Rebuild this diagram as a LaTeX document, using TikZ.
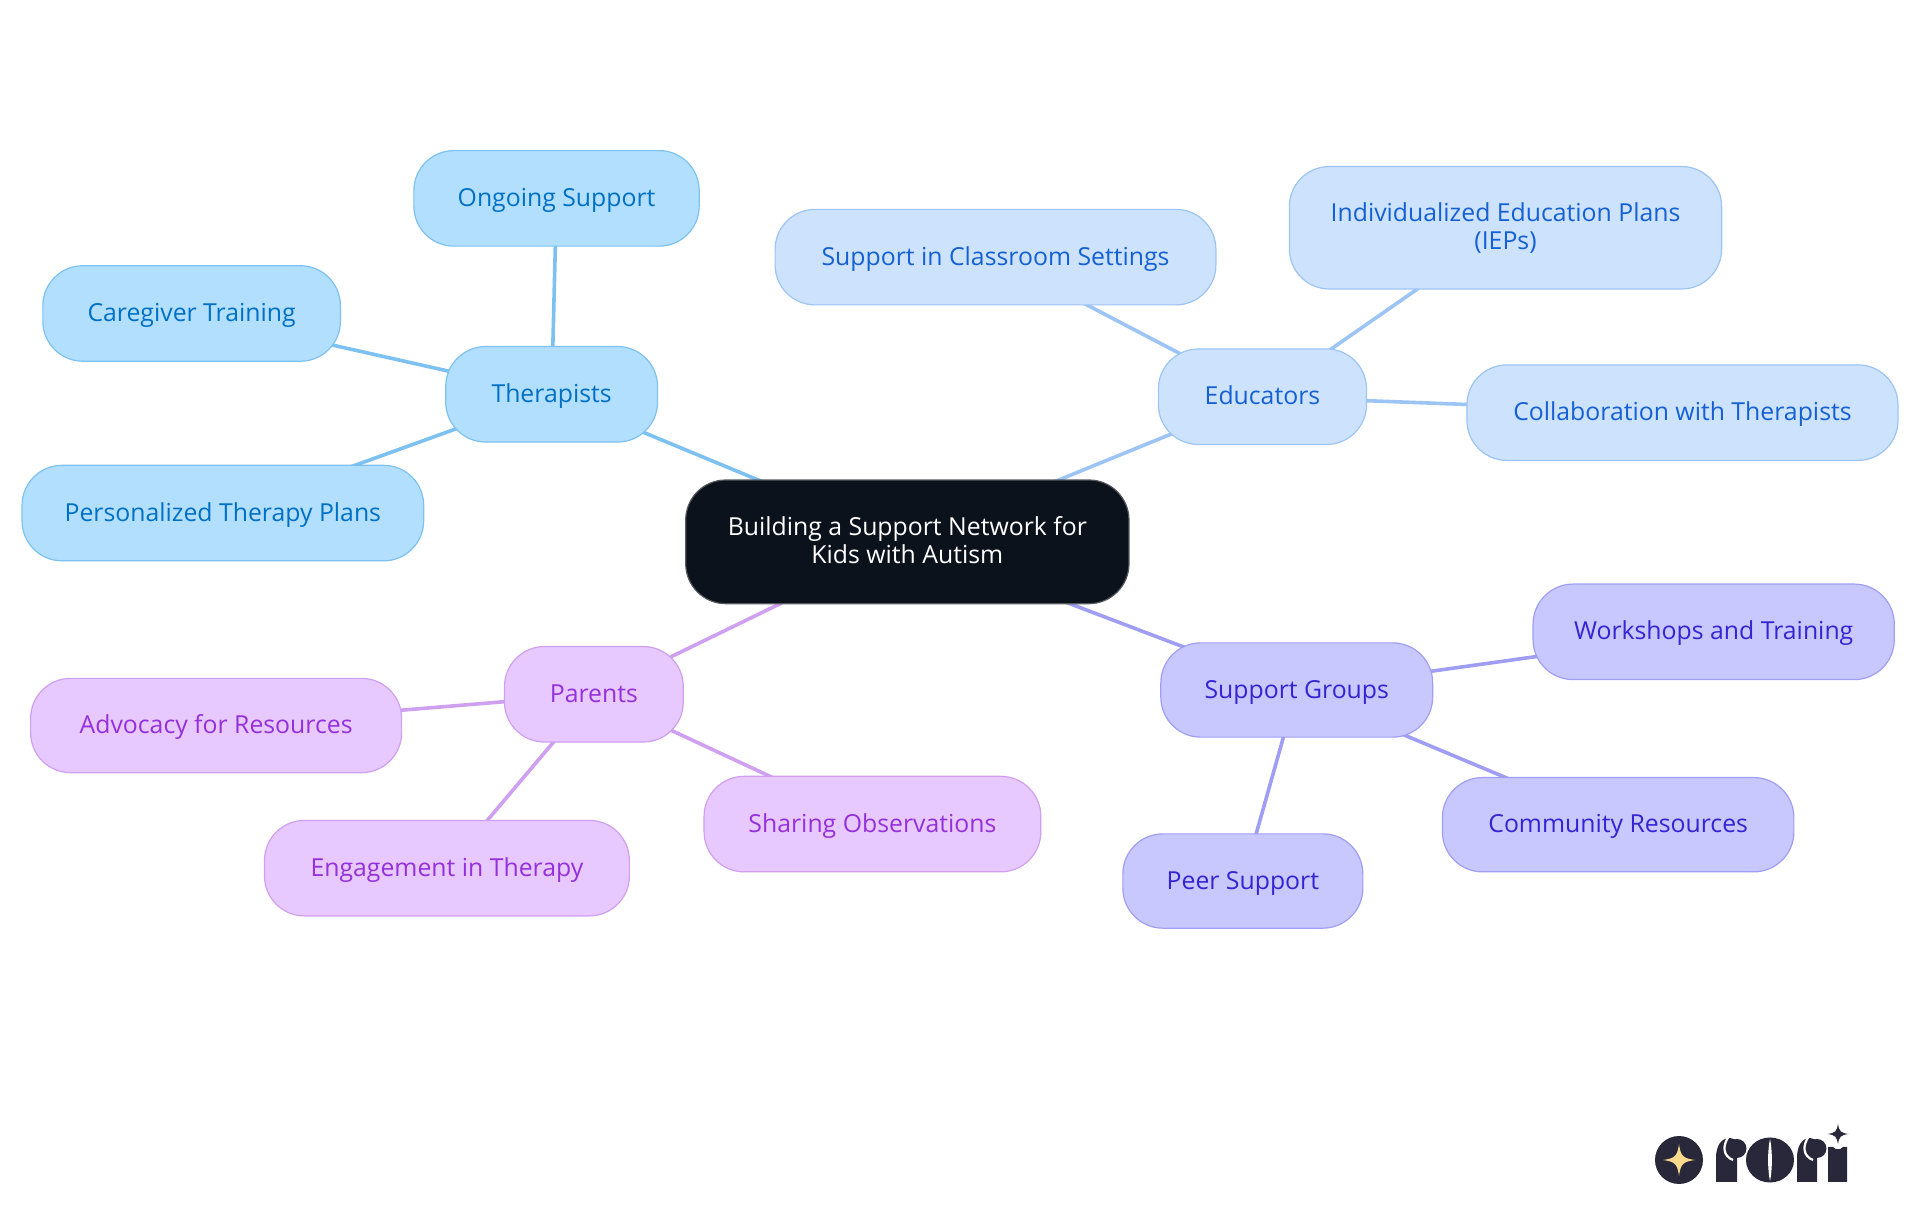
\documentclass[tikz,border=0pt]{standalone}
\usepackage{fontspec}
\setmainfont{Open Sans}
\usetikzlibrary{backgrounds}
\definecolor{tf}{HTML}{B3DFFF}\definecolor{tb}{HTML}{7DC1F1}\definecolor{tt}{HTML}{0070C4}
\definecolor{ef}{HTML}{CDE3FD}\definecolor{eb}{HTML}{9CC4F4}\definecolor{et}{HTML}{1560D4}
\definecolor{gf}{HTML}{C8C8FF}\definecolor{gb}{HTML}{A09EF4}\definecolor{gt}{HTML}{3424D4}
\definecolor{pf}{HTML}{E8C9FF}\definecolor{pb}{HTML}{CFA0F0}\definecolor{pt}{HTML}{9430DC}
\definecolor{cf}{HTML}{0B121B}\definecolor{cb}{HTML}{55585E}
\definecolor{logo}{HTML}{28283A}\definecolor{logostar}{HTML}{FBD98C}
\tikzset{
  basebox/.style={rounded corners=40pt,line width=1.2pt,inner sep=0pt,align=center,font=\fontsize{24.8}{28}\selectfont,text height=22pt,text depth=6pt},
  therbox/.style={basebox,draw=tb,fill=tf,text=tt},
  edubox/.style={basebox,draw=eb,fill=ef,text=et},
  grpbox/.style={basebox,draw=gb,fill=gf,text=gt},
  parbox/.style={basebox,draw=pb,fill=pf,text=pt},
  rootbox/.style={basebox,draw=cb,fill=cf,text=white},
  twolines/.style={text height=,text depth=},
  link/.style={line width=3.6pt}
}
\newcommand{\mapbox}[7]{%
  \pgfmathsetmacro\bw{(#4-#2)*1.2245}%
  \pgfmathsetmacro\bh{(#5-#3)*1.2245}%
  \node[#6,minimum width=\bw pt,minimum height=\bh pt] (#1) at ({(#2+#4)/2},{(#3+#5)/2}) {#7};}
\newcommand{\sparkle}[4]{\fill[#4,shift={(#1,#2)},scale=#3] (0,-1) .. controls (0.1,-0.25) and (0.25,-0.1) .. (1,0) .. controls (0.25,0.1) and (0.1,0.25) .. (0,1) .. controls (-0.1,0.25) and (-0.25,0.1) .. (-1,0) .. controls (-0.25,-0.1) and (-0.1,-0.25) .. (0,-1) -- cycle;}
\begin{document}
\begin{tikzpicture}[x=1.2245pt,y=-1.2245pt]
\useasboundingbox (0,0) rectangle (1568,992.2);
\mapbox{root}{560}{392}{922}{493}{rootbox,twolines}{Building a Support Network for\\Kids with Autism\rule[-4pt]{0pt}{4pt}}
\mapbox{ther}{364}{283}{537}{361}{therbox}{Therapists}
\mapbox{ongo}{338}{123}{571}{201}{therbox}{Ongoing Support}
\mapbox{care}{35}{217}{278}{295}{therbox}{Caregiver Training}
\mapbox{plan}{18}{380}{346}{458}{therbox}{Personalized Therapy Plans}
\mapbox{educ}{946}{285}{1116}{363}{edubox}{Educators}
\mapbox{clas}{633}{171}{993}{249}{edubox}{Support in Classroom Settings}
\mapbox{iep}{1053}{136}{1406}{236}{edubox,twolines}{\rule{0pt}{20pt}Individualized Education Plans\\(IEPs)}
\mapbox{coll}{1198}{298}{1550}{376}{edubox}{Collaboration with Therapists}
\mapbox{grps}{948}{525}{1170}{602}{grpbox}{Support Groups}
\mapbox{work}{1252}{477}{1547}{555}{grpbox}{Workshops and Training}
\mapbox{comm}{1178}{635}{1465}{712}{grpbox}{Community Resources}
\mapbox{peer}{917}{681}{1113}{758}{grpbox}{Peer Support}
\mapbox{pare}{412}{528}{558}{606}{parbox}{Parents}
\mapbox{advo}{25}{554}{328}{631}{parbox}{Advocacy for Resources}
\mapbox{enga}{216}{670}{514}{748}{parbox}{Engagement in Therapy}
\mapbox{shar}{575}{634}{850}{712}{parbox}{Sharing Observations}
\begin{scope}[on background layer]
\draw[link,tb] (root.center) -- (ther.center);
\draw[link,tb] (ther.center) -- (ongo.center);
\draw[link,tb] (ther.center) -- (care.center);
\draw[link,tb] (ther.center) -- (plan.center);
\draw[link,eb] (root.center) -- (educ.center);
\draw[link,eb] (educ.center) -- (clas.center);
\draw[link,eb] (educ.center) -- (iep.center);
\draw[link,eb] (educ.center) -- (coll.center);
\draw[link,gb] (root.center) -- (grps.center);
\draw[link,gb] (grps.center) -- (work.center);
\draw[link,gb] (grps.center) -- (comm.center);
\draw[link,gb] (grps.center) -- (peer.center);
\draw[link,pb] (root.center) -- (pare.center);
\draw[link,pb] (pare.center) -- (advo.center);
\draw[link,pb] (pare.center) -- (enga.center);
\draw[link,pb] (pare.center) -- (shar.center);
\end{scope}
% logo
\begin{scope}[x=1pt,y=-1pt]
\fill[logo] (1679,1160) circle (24);
\sparkle{1679}{1160}{16}{logostar}
\fill[logo] (1716,1182) -- (1716,1158) .. controls (1716,1146) and (1721,1138) .. (1730,1138) -- (1737,1140) -- (1737,1182) -- cycle;
\draw[white,line width=2.2pt] (1729,1136) .. controls (1722,1146) and (1723,1156) .. (1733,1160);
\fill[logo] (1737,1148.5) circle (9.5);
\fill[logo] (1770,1160) ellipse (24 and 22.5);
\fill[white] (1770,1139) .. controls (1767.5,1150) and (1767.5,1170) .. (1770,1181) .. controls (1772.5,1170) and (1772.5,1150) .. (1770,1139) -- cycle;
\fill[logo] (1797,1182) -- (1797,1158) .. controls (1797,1146) and (1802,1138) .. (1810,1138) -- (1817,1140) -- (1817,1182) -- cycle;
\draw[white,line width=2.2pt] (1809,1136) .. controls (1802,1146) and (1803,1156) .. (1813,1160);
\fill[logo] (1817,1148.5) circle (9.5);
\fill[logo] (1828,1147) -- (1833,1147) .. controls (1835,1150) and (1841,1150) .. (1843,1147) -- (1847,1147) -- (1847,1182) -- (1828,1182) -- cycle;
\sparkle{1838}{1134}{10.5}{logo}
\end{scope}
\end{tikzpicture}
\end{document}
